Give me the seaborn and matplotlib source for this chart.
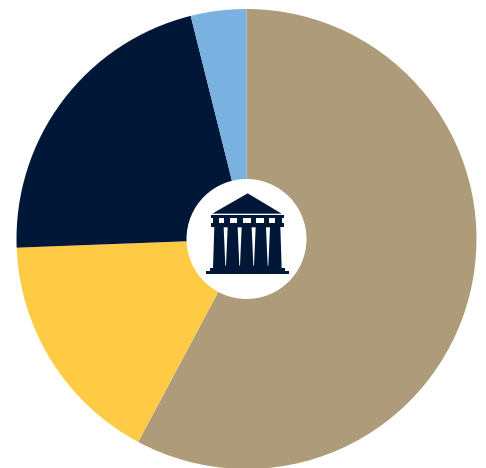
import matplotlib
matplotlib.use("Agg")
import matplotlib.pyplot as plt
import matplotlib.patches as mpatches
import seaborn as sns

# Share of each slice, clockwise from 12 o'clock
labels = ["Tan", "Yellow", "Navy", "Blue"]
values = [57.8, 16.6, 21.7, 3.9]
palette = sns.color_palette(["#ad9b7a", "#ffcb45", "#001737", "#7bb1e0"])
icon_color = "#001737"

sns.set_theme(style="white")

width, height = 486, 468
fig = plt.figure(figsize=(width / 100, height / 100), dpi=100)
ax = fig.add_axes([0, 0, 1, 1])

ax.pie(values, colors=palette, startangle=90, counterclock=False,
       radius=230, center=(246.5, height - 239),
       wedgeprops={"linewidth": 0})
ax.add_patch(mpatches.Circle((246.5, height - 239), 60, color="white", lw=0, zorder=3))


# Icon coordinates are pixels inside a 130x130 box, at 3x
def px(x, y):
    return (180 + x / 3, height - (175 + y / 3))


def poly(points, color=icon_color):
    ax.add_patch(mpatches.Polygon([px(*p) for p in points], closed=True,
                                  color=color, lw=0, zorder=4))


def box(x0, x1, y0, y1, color=icon_color):
    poly([(x0, y0), (x1, y0), (x1, y1), (x0, y1)], color)


# Roof and entablature
poly([(203, 55), (305, 116), (97, 116)])
box(93, 311, 120, 128)
box(100, 305, 128, 145)
for x0, x1 in [(117, 133), (150, 172), (190, 213), (229, 251), (268, 286)]:
    box(x0, x1, 129, 144, "white")
box(93, 311, 145, 155)

# Column block with tapering gaps between the columns
poly([(103, 155), (301, 155), (305, 280), (99, 280)])
for mid in [137, 179, 221, 264]:
    poly([(mid - 6, 157), (mid + 6, 157), (mid + 1, 272), (mid - 1, 272)], "white")

# Steps
box(90, 315, 280, 287)
box(78, 327, 289, 298)

ax.set_xlim(0, width)
ax.set_ylim(0, height)
ax.set_aspect("equal")
ax.axis("off")

fig.savefig("out.png", dpi=100, facecolor="white")
